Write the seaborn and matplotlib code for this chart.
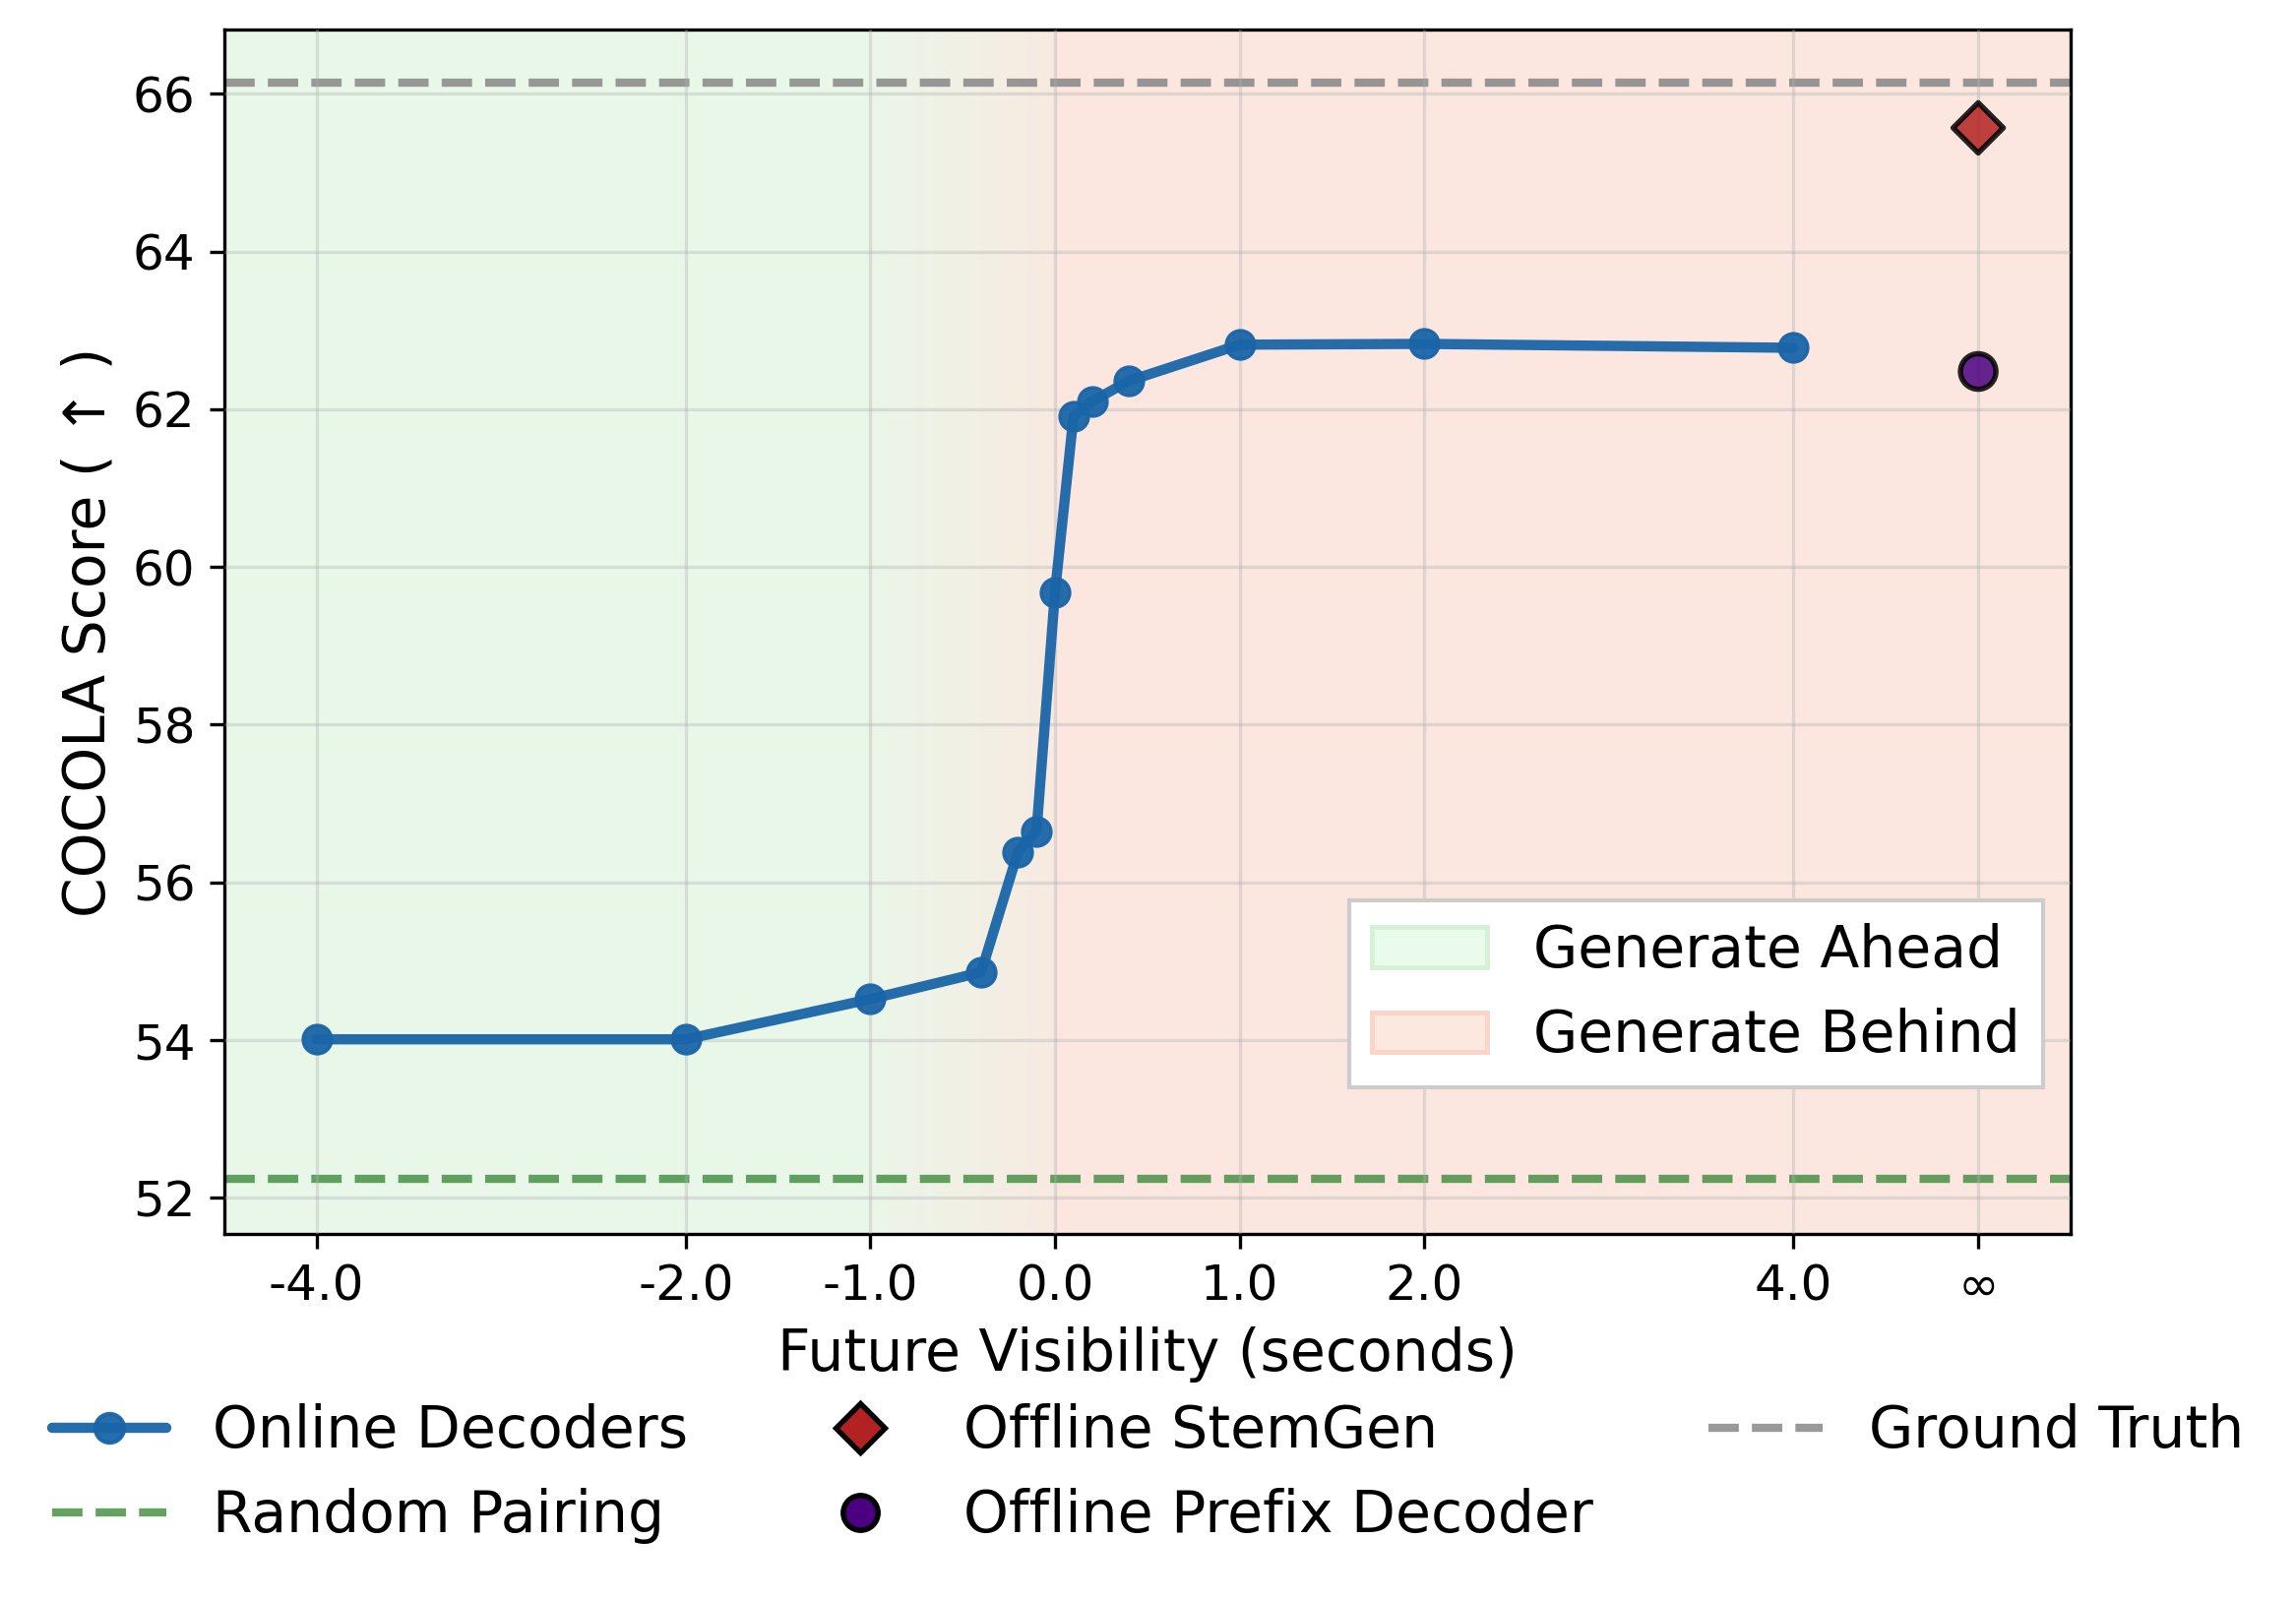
import numpy as np
import pandas as pd
import matplotlib
matplotlib.use("Agg")
import matplotlib.pyplot as plt
from matplotlib.patches import Patch
from matplotlib.lines import Line2D
from matplotlib.colors import to_rgb
import seaborn as sns

# online decoders: future visibility (s) vs COCOLA score
visibility = [-4.0, -2.0, -1.0, -0.4, -0.2, -0.1, 0.0, 0.1, 0.2, 0.4, 1.0, 2.0, 4.0]
cocola = [54.01, 54.01, 54.52, 54.86, 56.39, 56.65, 59.68, 61.91, 62.10, 62.36, 62.82, 62.83, 62.78]

# offline models sit at "infinite" visibility (drawn at x=5)
inf_pos = 5.0
offline_names = ["Offline StemGen", "Offline Prefix Decoder"]
offline_scores = [65.57, 62.48]

ground_truth = 66.14
random_pairing = 52.24

tick_pos = [-4.0, -2.0, -1.0, 0.0, 1.0, 2.0, 4.0, inf_pos]
tick_labels = ["-4.0", "-2.0", "-1.0", "0.0", "1.0", "2.0", "4.0", "∞"]

GREEN_BG = "#e9f7e9"
RED_BG = "#fbe7df"
LINE_C = "#1a65a8"

sns.set_style("ticks", rc={"text.color": "black", "axes.labelcolor": "black",
                           "xtick.color": "black", "ytick.color": "black",
                           "axes.edgecolor": "black"})
plt.rcParams["font.family"] = ["DejaVu Sans"]

fig = plt.figure(figsize=(2333 / 300, 1626 / 300), dpi=300)
ax = fig.add_axes([0.0976, 0.2287, 0.8042, 0.753])

xlim = (-4.5, 5.5)
ylim = (51.54, 66.82)

# background: green (ahead), banded gradient from -1 to 0, red (behind)
ax.axvspan(xlim[0], -1.0, color=GREEN_BG, lw=0, zorder=0)
ax.axvspan(0.0, xlim[1], color=RED_BG, lw=0, zorder=0)
g, r = np.array(to_rgb(GREEN_BG)), np.array(to_rgb(RED_BG))
n_steps = 20
edges = np.linspace(-1.0, 0.0, n_steps + 1)
mix = np.linspace(0.1, 0.8, n_steps)
for i in range(n_steps):
    t = mix[i]
    ax.axvspan(edges[i], edges[i + 1] + 0.002, color=(1 - t) * g + t * r, lw=0, zorder=0)

ax.grid(True, color="#b0b0b0", alpha=0.35, lw=0.8, zorder=1)
ax.set_axisbelow(False)

ax.axhline(ground_truth, color="gray", ls="--", lw=2, alpha=0.8, zorder=2)
ax.axhline(random_pairing, color="#3d8b3d", ls="--", lw=2, alpha=0.8, zorder=2)

df = pd.DataFrame({"vis": visibility, "score": cocola})
sns.lineplot(data=df, x="vis", y="score", ax=ax, color=LINE_C, lw=2.5,
             marker="o", markersize=7, markeredgecolor=LINE_C,
             alpha=0.95, zorder=3)

off = pd.DataFrame({"vis": [inf_pos, inf_pos], "score": offline_scores, "name": offline_names})
sns.scatterplot(data=off, x="vis", y="score", hue="name", style="name",
                palette={"Offline StemGen": "#b22222", "Offline Prefix Decoder": "#4b0082"},
                markers={"Offline StemGen": "D", "Offline Prefix Decoder": "o"},
                s=75, edgecolor="black", linewidth=1.3, alpha=0.85,
                legend=False, ax=ax, zorder=4)

ax.set_xlim(*xlim)
ax.set_ylim(*ylim)
ax.set_xticks(tick_pos)
ax.set_xticklabels(tick_labels)
ax.set_yticks(np.arange(52, 67, 2))
ax.tick_params(labelsize=12, colors="black", direction="out", length=3.5, width=0.8)
for s in ax.spines.values():
    s.set_visible(True)
    s.set_color("black")
    s.set_linewidth(0.8)

ax.set_xlabel("Future Visibility (seconds)", fontsize=14)
ax.set_ylabel("COCOLA Score ( ↑ )", fontsize=14)

# region legend
region_handles = [
    Patch(facecolor="#ebfbeb", edgecolor="#d6f2d6", lw=1.2, label="Generate Ahead"),
    Patch(facecolor="#fde8e0", edgecolor="#fbd6c8", lw=1.2, label="Generate Behind"),
]
ax.legend(handles=region_handles, loc="lower right", bbox_to_anchor=(0.985, 0.122),
          borderaxespad=0, fontsize=14, fancybox=False, framealpha=1, edgecolor="#cccccc")

# main legend below the axes
handles = [
    Line2D([], [], color=LINE_C, lw=2.5, marker="o", markersize=7, alpha=0.95),
    Line2D([], [], color="#3d8b3d", lw=2, ls="--", alpha=0.8),
    Line2D([], [], ls="none", marker="D", markersize=8.5, markerfacecolor="#b22222",
           markeredgecolor="black", markeredgewidth=1.3),
    Line2D([], [], ls="none", marker="o", markersize=8.5, markerfacecolor="#4b0082",
           markeredgecolor="black", markeredgewidth=1.3),
    Line2D([], [], color="gray", lw=2, ls="--", alpha=0.8),
]
labels = ["Online Decoders", "Random Pairing", "Offline StemGen",
          "Offline Prefix Decoder", "Ground Truth"]
fig.legend(handles, labels, loc="center", bbox_to_anchor=(0.5, 0.079), ncol=3,
           fontsize=14, frameon=False, columnspacing=2.0)

fig.savefig("out.png", dpi=300)
